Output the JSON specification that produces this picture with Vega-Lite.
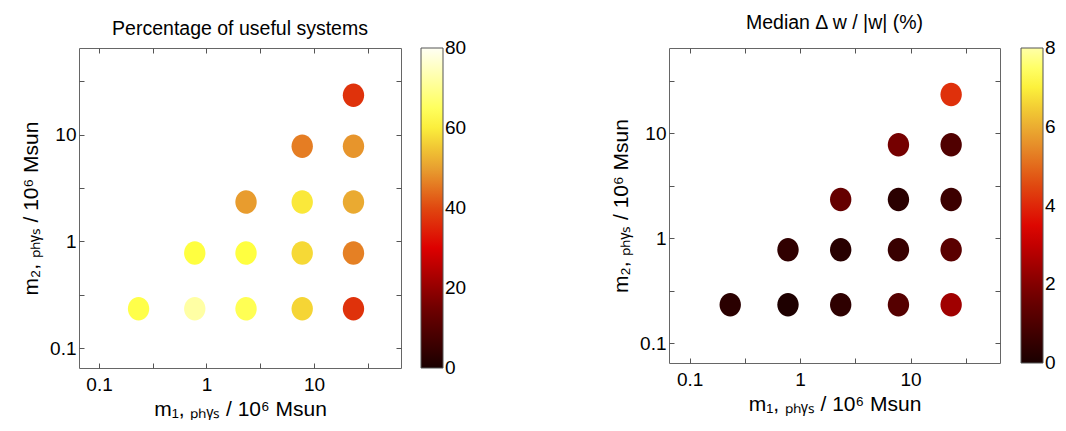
{
  "$schema": "https://vega.github.io/schema/vega-lite/v6.json",
  "background": "white",
  "padding": {"left": 20, "top": 12, "right": 0, "bottom": 0},
  "datasets": {
    "useful": [
      {"m1": 0.2333, "m2": 0.2333, "pct": 63},
      {"m1": 0.7778, "m2": 0.2333, "pct": 72},
      {"m1": 2.333, "m2": 0.2333, "pct": 64},
      {"m1": 7.778, "m2": 0.2333, "pct": 57},
      {"m1": 23.33, "m2": 0.2333, "pct": 37},
      {"m1": 0.7778, "m2": 0.7778, "pct": 62},
      {"m1": 2.333, "m2": 0.7778, "pct": 62},
      {"m1": 7.778, "m2": 0.7778, "pct": 57.5},
      {"m1": 23.33, "m2": 0.7778, "pct": 46.4},
      {"m1": 2.333, "m2": 2.333, "pct": 49.5},
      {"m1": 7.778, "m2": 2.333, "pct": 59.3},
      {"m1": 23.33, "m2": 2.333, "pct": 51.3},
      {"m1": 7.778, "m2": 7.778, "pct": 46},
      {"m1": 23.33, "m2": 7.778, "pct": 48.8},
      {"m1": 23.33, "m2": 23.33, "pct": 37}
    ],
    "dw": [
      {"m1": 0.2333, "m2": 0.2333, "dw": 0.32},
      {"m1": 0.7778, "m2": 0.2333, "dw": 0.08},
      {"m1": 2.333, "m2": 0.2333, "dw": 0.4},
      {"m1": 7.778, "m2": 0.2333, "dw": 1.17},
      {"m1": 23.33, "m2": 0.2333, "dw": 2.45},
      {"m1": 0.7778, "m2": 0.7778, "dw": 0.43},
      {"m1": 2.333, "m2": 0.7778, "dw": 0.28},
      {"m1": 7.778, "m2": 0.7778, "dw": 0.59},
      {"m1": 23.33, "m2": 0.7778, "dw": 1.27},
      {"m1": 2.333, "m2": 2.333, "dw": 1.48},
      {"m1": 7.778, "m2": 2.333, "dw": 0.32},
      {"m1": 23.33, "m2": 2.333, "dw": 0.67},
      {"m1": 7.778, "m2": 7.778, "dw": 1.78},
      {"m1": 23.33, "m2": 7.778, "dw": 1.07},
      {"m1": 23.33, "m2": 23.33, "dw": 4.13}
    ]
  },
  "config": {
    "font": "Liberation Sans",
    "view": {"stroke": "#666666", "strokeWidth": 1},
    "axis": {
      "grid": false,
      "domain": false,
      "tickColor": "#555555",
      "tickSize": -5,
      "tickWidth": 1,
      "labelFont": "Liberation Sans",
      "labelFontSize": 19,
      "labelColor": "#000000",
      "titleFont": "Liberation Sans",
      "titleFontSize": 21,
      "titleFontWeight": "normal",
      "titleColor": "#000000"
    },
    "legend": {
      "gradientThickness": 22,
      "gradientStrokeColor": "#555555",
      "gradientStrokeWidth": 1,
      "labelFont": "Liberation Sans",
      "labelFontSize": 19,
      "labelColor": "#000000",
      "labelOffset": 4,
      "labelOverlap": false,
      "offset": 19,
      "padding": 0
    },
    "title": {
      "font": "Liberation Sans",
      "fontSize": 19.5,
      "fontWeight": "normal",
      "color": "#000000"
    }
  },
  "hconcat": [
    {
      "title": {"text": "Percentage of useful systems", "offset": 8},
      "width": 322,
      "height": 320,
      "data": {"name": "useful"},
      "layer": [
        {
          "mark": {"type": "point", "shape": "M0,-1A0.91,1,0,1,1,0,1A0.91,1,0,1,1,0,-1Z", "filled": true, "opacity": 1, "size": 552, "strokeWidth": 0},
          "encoding": {
            "x": {
              "field": "m1", "type": "quantitative",
              "scale": {"type": "log", "domain": [0.0651, 64.6], "nice": false},
              "axis": {"values": [0.1, 0.31623, 1, 3.1623, 10, 31.623], "format": "~g",
                       "labelExpr": "datum.value == 0.1 || datum.value == 1 || datum.value == 10 ? datum.label : ''",
                       "title": "m₁, ₚₕᵧₛ / 10⁶ Msun", "labelPadding": 12, "titlePadding": 4}
            },
            "y": {
              "field": "m2", "type": "quantitative",
              "scale": {"type": "log", "domain": [0.0651, 64.6], "nice": false},
              "axis": {"values": [0.1, 0.31623, 1, 3.1623, 10, 31.623], "format": "~g",
                       "labelExpr": "datum.value == 0.1 || datum.value == 1 || datum.value == 10 ? datum.label : ''",
                       "title": "m₂, ₚₕᵧₛ / 10⁶ Msun", "labelPadding": 8, "titlePadding": 8}
            },
            "color": {
              "field": "pct", "type": "quantitative",
              "scale": {"domain": [0, 15, 30, 40, 50, 57, 62, 80],
                        "range": ["#1a0000", "#700000", "#dd0000", "#e04810", "#e8a030", "#f5d535", "#ffff40", "#fffff4"],
                        "interpolate": "rgb"},
              "legend": {"title": null, "values": [0.001, 20, 40, 60, 79.999], "labelExpr": "'' + round(datum.value)",
                         "direction": "vertical", "orient": "right", "gradientLength": 320}
            }
          }
        },
        {
          "mark": {"type": "point", "opacity": 0},
          "encoding": {
            "x": {"field": "m1", "type": "quantitative",
                  "axis": {"orient": "top", "labels": false, "title": null, "values": [0.1, 0.31623, 1, 3.1623, 10, 31.623]}},
            "y": {"field": "m2", "type": "quantitative",
                  "axis": {"orient": "right", "labels": false, "title": null, "values": [0.1, 0.31623, 1, 3.1623, 10, 31.623]}}
          }
        }
      ],
      "resolve": {"axis": {"x": "independent", "y": "independent"}}
    },
    {
      "title": {"text": "Median Δ w / |w|  (%)", "offset": 14},
      "width": 331,
      "height": 315,
      "data": {"name": "dw"},
      "layer": [
        {
          "mark": {"type": "point", "shape": "M0,-1A0.91,1,0,1,1,0,1A0.91,1,0,1,1,0,-1Z", "filled": true, "opacity": 1, "size": 552, "strokeWidth": 0},
          "encoding": {
            "x": {
              "field": "m1", "type": "quantitative",
              "scale": {"type": "log", "domain": [0.0651, 64.6], "nice": false},
              "axis": {"values": [0.1, 0.31623, 1, 3.1623, 10, 31.623], "format": "~g",
                       "labelExpr": "datum.value == 0.1 || datum.value == 1 || datum.value == 10 ? datum.label : ''",
                       "title": "m₁, ₚₕᵧₛ / 10⁶ Msun", "labelPadding": 12, "titlePadding": 4}
            },
            "y": {
              "field": "m2", "type": "quantitative",
              "scale": {"type": "log", "domain": [0.0651, 64.6], "nice": false},
              "axis": {"values": [0.1, 0.31623, 1, 3.1623, 10, 31.623], "format": "~g",
                       "labelExpr": "datum.value == 0.1 || datum.value == 1 || datum.value == 10 ? datum.label : ''",
                       "title": "m₂, ₚₕᵧₛ / 10⁶ Msun", "labelPadding": 8, "titlePadding": 8}
            },
            "color": {
              "field": "dw", "type": "quantitative",
              "scale": {"domain": [0, 1.7, 3.4, 4.5, 5.8, 6.6, 7.2, 8],
                        "range": ["#1a0000", "#700000", "#dd0000", "#e04810", "#e8a030", "#f5d535", "#ffff40", "#ffffa8"],
                        "interpolate": "rgb"},
              "legend": {"title": null, "values": [0.0001, 2, 4, 6, 7.9999], "labelExpr": "'' + round(datum.value)",
                         "direction": "vertical", "orient": "right", "offset": 20, "gradientLength": 315}
            }
          }
        },
        {
          "mark": {"type": "point", "opacity": 0},
          "encoding": {
            "x": {"field": "m1", "type": "quantitative",
                  "axis": {"orient": "top", "labels": false, "title": null, "values": [0.1, 0.31623, 1, 3.1623, 10, 31.623]}},
            "y": {"field": "m2", "type": "quantitative",
                  "axis": {"orient": "right", "labels": false, "title": null, "values": [0.1, 0.31623, 1, 3.1623, 10, 31.623]}}
          }
        }
      ],
      "resolve": {"axis": {"x": "independent", "y": "independent"}}
    }
  ],
  "spacing": 142,
  "resolve": {"scale": {"color": "independent"}}
}
